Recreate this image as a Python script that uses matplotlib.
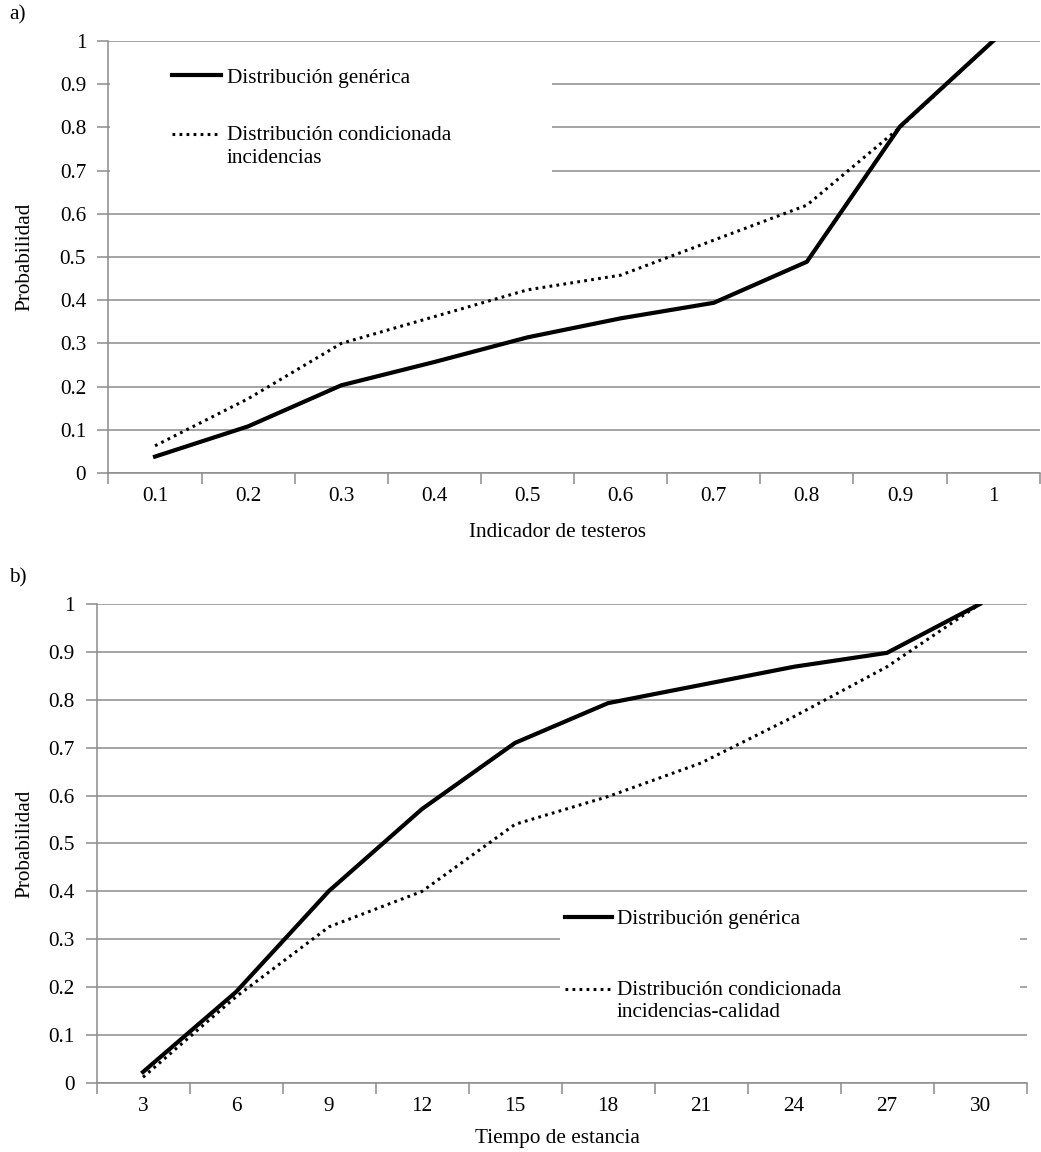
import matplotlib.pyplot as plt
import numpy as np
from matplotlib.patches import Rectangle
from matplotlib.legend_handler import HandlerLine2D

plt.rcParams['font.family'] = ['Liberation Serif', 'DejaVu Serif']
plt.rcParams['font.size'] = 15.3

# a) Indicador de testeros
indicador = ['0.1', '0.2', '0.3', '0.4', '0.5', '0.6', '0.7', '0.8', '0.9', '1']
generica_a = [0.038, 0.108, 0.203, 0.257, 0.314, 0.358, 0.394, 0.489, 0.802, 1.0]
condicionada_a = [0.063, 0.172, 0.300, 0.362, 0.424, 0.458, 0.539, 0.620, 0.800, 1.0]

# b) Tiempo de estancia
tiempo = ['3', '6', '9', '12', '15', '18', '21', '24', '27', '30']
generica_b = [0.023, 0.190, 0.401, 0.572, 0.710, 0.793, 0.831, 0.869, 0.898, 1.0]
condicionada_b = [0.012, 0.180, 0.326, 0.400, 0.540, 0.598, 0.668, 0.765, 0.869, 1.0]

gris = '#8c8c8c'


class HandlerPrimeraLinea(HandlerLine2D):
    # pone la muestra a la altura de la primera linea del texto
    def __init__(self, subir, **kw):
        super().__init__(**kw)
        self.subir = subir

    def create_artists(self, legend, orig_handle, xdescent, ydescent,
                       width, height, fontsize, trans):
        artistas = super().create_artists(legend, orig_handle, xdescent, ydescent,
                                          width, height, fontsize, trans)
        for a in artistas:
            a.set_ydata(np.asarray(a.get_ydata()) + self.subir)
        return artistas


fig = plt.figure(figsize=(10.41, 11.52), dpi=100)
ax1 = fig.add_axes([0.1042, 0.5894, 0.8945, 0.375])
ax2 = fig.add_axes([0.0927, 0.0599, 0.8934, 0.4158])


def preparar(ax, categorias):
    x = np.arange(len(categorias))
    ax.set_xlim(-0.5, len(categorias) - 0.5)
    ax.set_ylim(0, 1)
    ax.set_xticks(x)
    ax.set_xticklabels(categorias)
    ax.set_xticks(np.arange(len(categorias) + 1) - 0.5, minor=True)
    ax.set_yticks(np.arange(0, 1.01, 0.1))
    ax.set_yticklabels(['0', '0.1', '0.2', '0.3', '0.4', '0.5', '0.6', '0.7', '0.8', '0.9', '1'])
    ax.tick_params(axis='x', which='major', length=0, pad=10)
    ax.tick_params(axis='x', which='minor', length=8, width=1.1, color=gris)
    ax.tick_params(axis='y', length=8, width=1.1, color=gris, pad=8)
    ax.grid(axis='y', color=gris, linewidth=1.1)
    ax.set_axisbelow(True)
    for lado in ['top', 'right']:
        ax.spines[lado].set_visible(False)
    for lado in ['left', 'bottom']:
        ax.spines[lado].set_color(gris)
        ax.spines[lado].set_linewidth(1.1)
    return x


x1 = preparar(ax1, indicador)
g1, = ax1.plot(x1, generica_a, color='black', linewidth=3.0, label='Distribución genérica', zorder=3)
c1, = ax1.plot(x1, condicionada_a, color='black', linewidth=2.2, linestyle=(0, (0.9, 1.4)),
               label='Distribución condicionada\nincidencias', zorder=3)
ax1.add_patch(Rectangle((0.002, 0.62), 0.474, 0.35, transform=ax1.transAxes,
                        facecolor='white', edgecolor='none', zorder=1))
leg1 = ax1.legend(loc='upper left', bbox_to_anchor=(0.068, 0.938), frameon=False,
                  borderpad=0, borderaxespad=0, handlelength=2.3, handletextpad=0.3,
                  labelspacing=1.8, handler_map={c1: HandlerPrimeraLinea(9.0)})
for t in leg1.get_texts():
    t.set_linespacing(1.3)
ax1.set_xlabel('Indicador de testeros')
ax1.xaxis.set_label_coords(0.482, -0.137)
ax1.xaxis.label.set_va('center')
ax1.set_ylabel('Probabilidad')
ax1.yaxis.set_label_coords(-0.0897, 0.5)
ax1.yaxis.label.set_va('center')

x2 = preparar(ax2, tiempo)
g2, = ax2.plot(x2, generica_b, color='black', linewidth=3.0, label='Distribución genérica', zorder=3)
c2, = ax2.plot(x2, condicionada_b, color='black', linewidth=2.2, linestyle=(0, (0.9, 1.4)),
               label='Distribución condicionada\nincidencias-calidad', zorder=3)
ax2.add_patch(Rectangle((0.498, 0.12), 0.495, 0.26, transform=ax2.transAxes,
                        facecolor='white', edgecolor='none', zorder=1))
leg2 = ax2.legend(loc='upper left', bbox_to_anchor=(0.504, 0.362), frameon=False,
                  borderpad=0, borderaxespad=0, handlelength=2.2, handletextpad=0.22,
                  labelspacing=2.43, handler_map={c2: HandlerPrimeraLinea(8.5)})
for t in leg2.get_texts():
    t.set_linespacing(1.2)
ax2.set_xlabel('Tiempo de estancia')
ax2.xaxis.set_label_coords(0.496, -0.115)
ax2.xaxis.label.set_va('center')
ax2.set_ylabel('Probabilidad')
ax2.yaxis.set_label_coords(-0.077, 0.5)
ax2.yaxis.label.set_va('center')

fig.text(0.009, 0.987, 'a)', va='center', ha='left')
fig.text(0.009, 0.498, 'b)', va='center', ha='left')

fig.savefig('out.png', dpi=100)
